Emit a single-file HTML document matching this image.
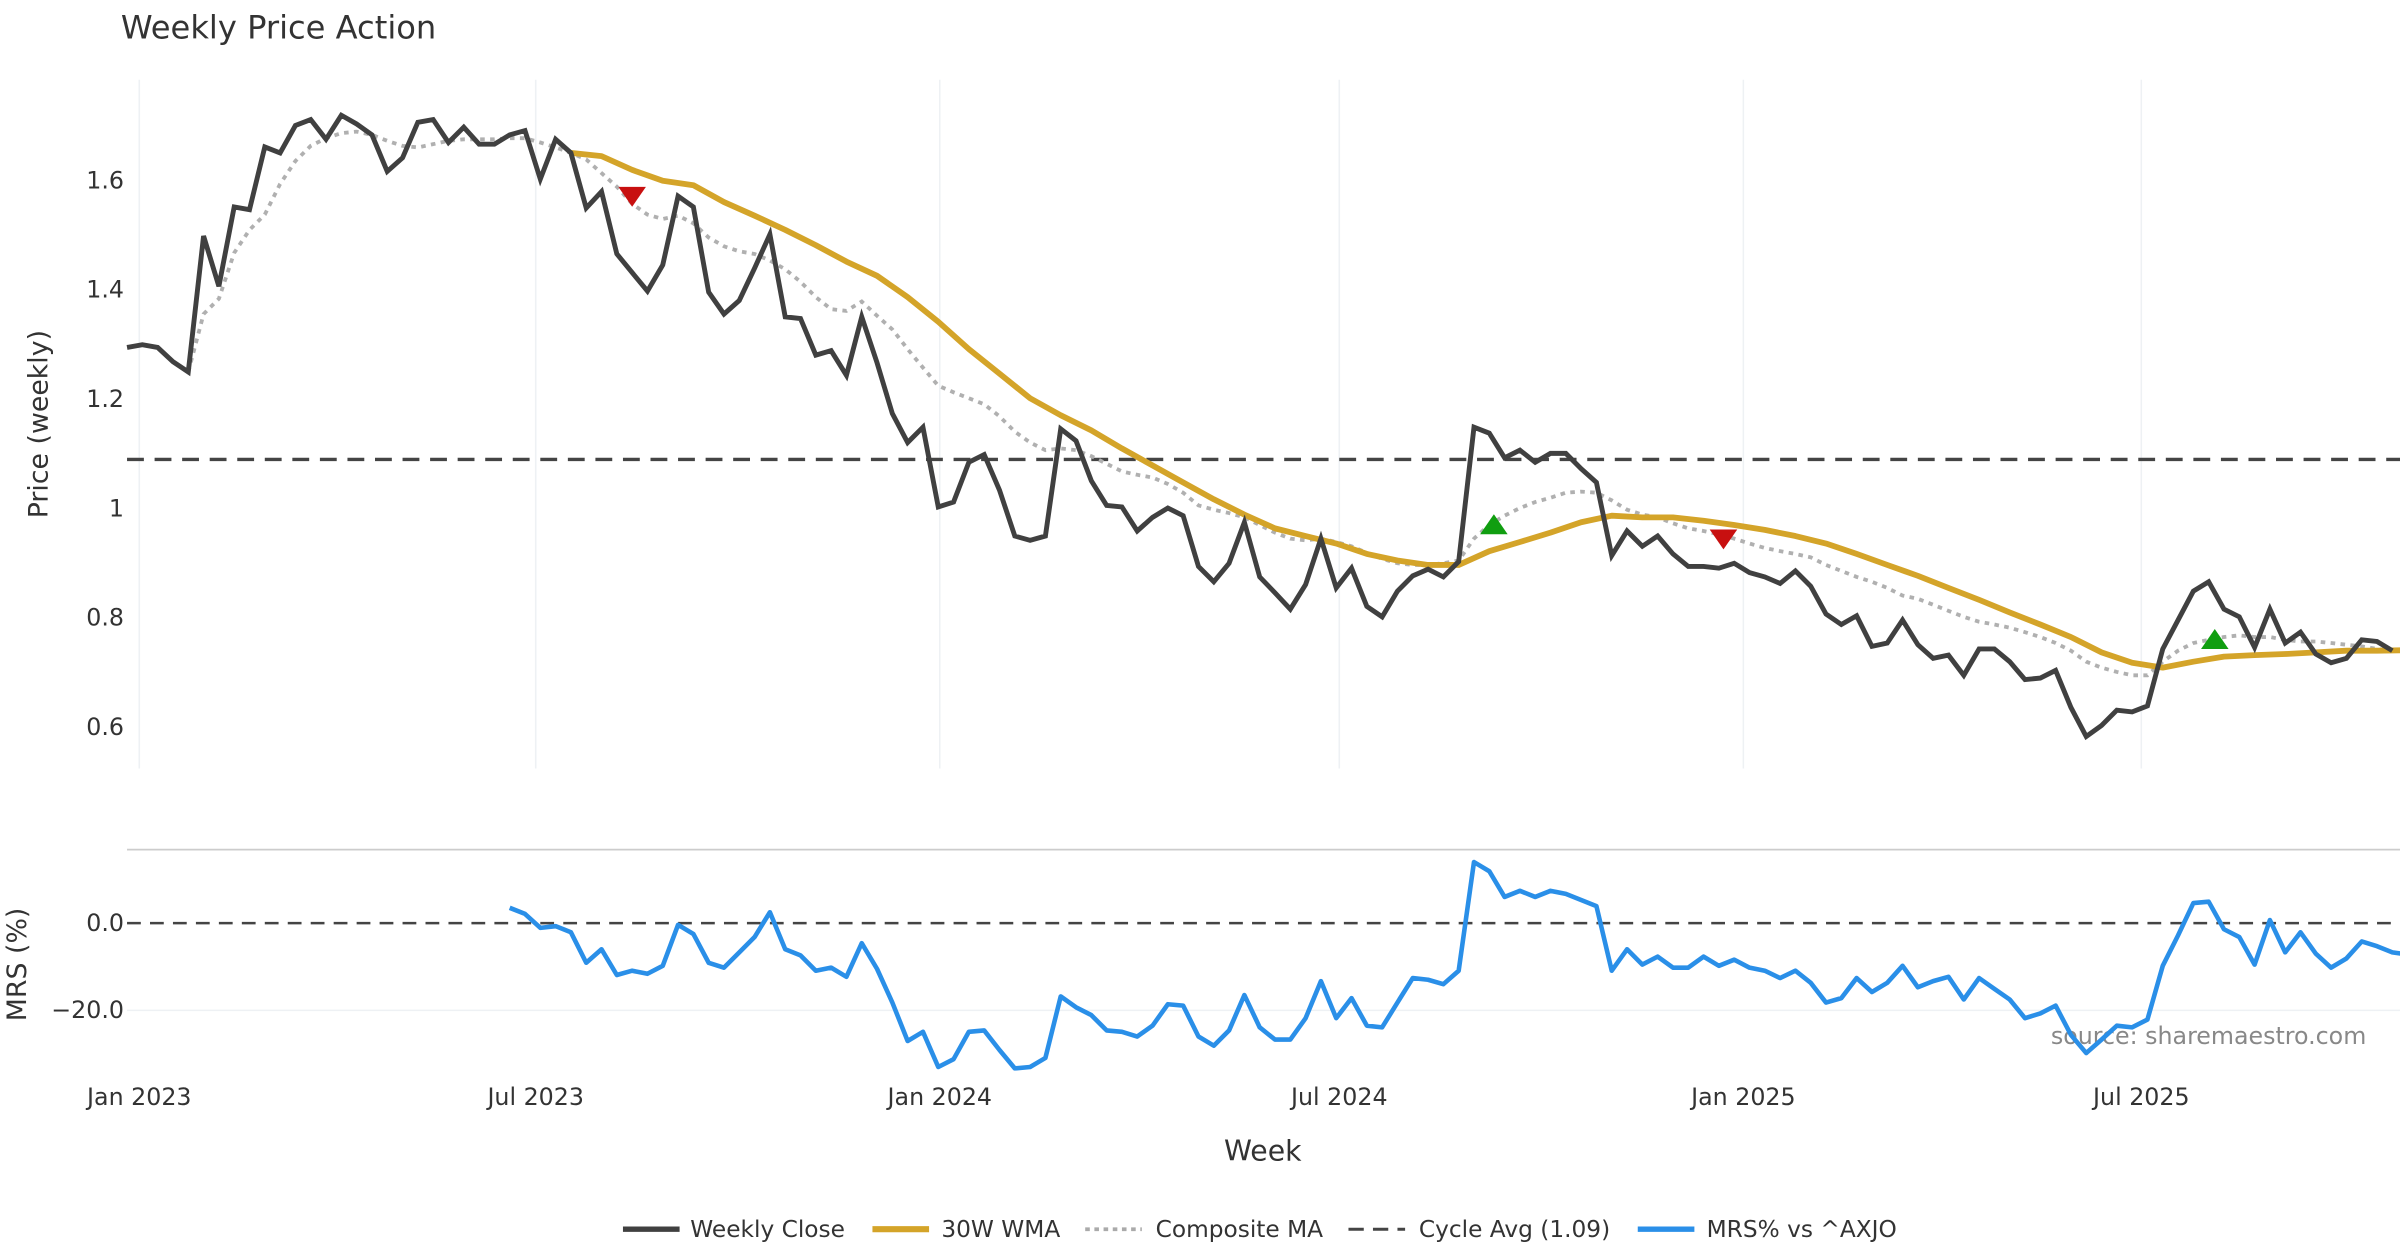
<!DOCTYPE html>
<html><head><meta charset="utf-8"><title>Weekly Price Action</title>
<style>
html,body{margin:0;padding:0;background:#fff;}
svg{display:block;font-family:"DejaVu Sans","Liberation Sans",sans-serif;}
</style></head>
<body>
<svg id="chart" xmlns="http://www.w3.org/2000/svg" width="2400" height="1260" viewBox="0 0 1568 823">
  <rect width="1568" height="823" fill="#fff"/>
  <text x="79" y="25" font-size="21" fill="#333">Weekly Price Action</text>
  <text transform="translate(31,277) rotate(-90)" text-anchor="middle" font-size="17.5" fill="#333">Price (weekly)</text>
  <text transform="translate(17,630) rotate(-90)" text-anchor="middle" font-size="17.5" fill="#333">MRS (%)</text>
  <line x1="83" y1="555" x2="1568" y2="555" stroke="#ccc" stroke-width="1.2"/>
  <text x="1546" y="682" text-anchor="end" font-size="15.5" fill="#888">source: sharemaestro.com</text>
  <text x="825" y="758" text-anchor="middle" font-size="18.5" fill="#333">Week</text>
  <g id="grid"></g>
  <g id="upper"></g>
  <g id="lower"></g>
  <g id="legend">
    <g><line x1="407" y1="803" x2="444" y2="803" stroke="#404040" stroke-width="3.5"/><text x="451" y="808" font-size="15.2" fill="#333">Weekly Close</text></g>
    <g><line x1="570" y1="803" x2="607" y2="803" stroke="#d4a429" stroke-width="4"/><text x="615" y="808" font-size="15.2" fill="#333">30W WMA</text></g>
    <g><line x1="709" y1="803" x2="746" y2="803" stroke="#aaa" stroke-width="2.5" stroke-dasharray="3,3"/><text x="755" y="808" font-size="15.2" fill="#333">Composite MA</text></g>
    <g><line x1="881" y1="803" x2="918" y2="803" stroke="#444" stroke-width="2" stroke-dasharray="10,6"/><text x="927" y="808" font-size="15.2" fill="#333">Cycle Avg (1.09)</text></g>
    <g><line x1="1070" y1="803" x2="1107" y2="803" stroke="#2a8fe8" stroke-width="3.5"/><text x="1115" y="808" font-size="15.2" fill="#333">MRS% vs ^AXJO</text></g>
  </g>
</svg>
<script>
const closeStart = 0;
const closeVals = [1.295,1.300,1.295,1.269,1.250,1.499,1.407,1.552,1.547,1.662,1.651,1.701,1.712,1.676,1.720,1.704,1.684,1.617,1.642,1.707,1.712,1.670,1.698,1.667,1.667,1.684,1.692,1.603,1.676,1.651,1.550,1.580,1.466,1.432,1.398,1.446,1.572,1.552,1.396,1.356,1.381,1.440,1.502,1.351,1.348,1.281,1.289,1.244,1.351,1.267,1.174,1.121,1.149,1.003,1.012,1.085,1.099,1.034,0.950,0.942,0.950,1.146,1.124,1.051,1.006,1.003,0.959,0.984,1.001,0.987,0.894,0.866,0.900,0.975,0.875,0.846,0.816,0.861,0.945,0.855,0.891,0.821,0.802,0.849,0.877,0.889,0.875,0.903,1.149,1.138,1.093,1.107,1.085,1.101,1.101,1.073,1.048,0.914,0.959,0.931,0.950,0.917,0.894,0.894,0.891,0.900,0.883,0.875,0.863,0.886,0.858,0.807,0.788,0.804,0.748,0.754,0.796,0.751,0.726,0.732,0.695,0.743,0.743,0.720,0.687,0.690,0.704,0.636,0.583,0.603,0.631,0.628,0.639,0.743,0.796,0.849,0.866,0.816,0.802,0.746,0.816,0.754,0.774,0.734,0.718,0.726,0.760,0.757,0.740];
const compStart = 4;
const compVals = [1.250,1.356,1.384,1.468,1.510,1.538,1.594,1.636,1.664,1.678,1.687,1.690,1.684,1.673,1.664,1.661,1.667,1.673,1.676,1.676,1.676,1.678,1.678,1.670,1.661,1.651,1.639,1.614,1.589,1.558,1.538,1.530,1.536,1.522,1.496,1.480,1.471,1.466,1.454,1.438,1.415,1.387,1.365,1.362,1.379,1.353,1.328,1.292,1.258,1.225,1.213,1.202,1.191,1.169,1.141,1.121,1.107,1.110,1.107,1.096,1.082,1.068,1.062,1.057,1.045,1.029,1.006,0.998,0.992,0.984,0.970,0.956,0.945,0.942,0.945,0.939,0.931,0.919,0.908,0.900,0.897,0.897,0.900,0.905,0.945,0.970,0.987,1.001,1.012,1.020,1.029,1.031,1.029,1.015,0.998,0.989,0.984,0.973,0.964,0.959,0.953,0.945,0.936,0.928,0.922,0.917,0.911,0.897,0.886,0.875,0.866,0.855,0.841,0.835,0.824,0.813,0.802,0.793,0.788,0.782,0.774,0.765,0.754,0.740,0.720,0.709,0.701,0.695,0.695,0.720,0.740,0.754,0.760,0.765,0.768,0.765,0.765,0.760,0.757,0.757,0.754,0.751,0.748,0.743,0.740,0.740];
const wmaWeeks = [29,31,33,35,37,39,41,43,45,47,49,51,53,55,57,59,61,63,65,67,69,71,73,75,77,79,81,83,85,87,89,91,93,95,97,99,101,103,105,107,109,111,113,115,117,119,121,123,125,127,129,131,133,135,137,139,141,143,145,147,149];
const wmaVals = [1.651,1.645,1.620,1.600,1.592,1.561,1.536,1.510,1.482,1.452,1.426,1.387,1.342,1.292,1.247,1.202,1.171,1.143,1.110,1.079,1.048,1.017,0.989,0.964,0.950,0.936,0.917,0.905,0.897,0.897,0.922,0.939,0.956,0.975,0.987,0.984,0.984,0.978,0.970,0.961,0.950,0.936,0.917,0.897,0.877,0.855,0.833,0.810,0.788,0.765,0.737,0.718,0.709,0.720,0.729,0.732,0.734,0.737,0.740,0.740,0.741];
const cycleAvg = 1.09;
const sellWeeks = [33,104.3];
const sellVals = [1.572,0.945];
const buyWeeks = [89.3,136.4];
const buyVals = [0.970,0.760];
const mrsStart = 25;
const mrsVals = [3.5,2.1,-1.1,-0.7,-2.1,-9.1,-6.0,-11.9,-10.9,-11.6,-9.8,-0.4,-2.5,-9.1,-10.2,-6.7,-3.2,2.5,-6.0,-7.4,-10.9,-10.2,-12.3,-4.6,-10.5,-18.2,-27.0,-24.9,-33.0,-31.2,-24.9,-24.6,-29.1,-33.3,-33.0,-30.9,-16.8,-19.3,-21.1,-24.6,-24.9,-26.0,-23.5,-18.6,-18.9,-26.0,-28.1,-24.6,-16.5,-23.9,-26.7,-26.7,-21.8,-13.3,-21.8,-17.2,-23.5,-23.9,-18.2,-12.6,-13.0,-14.0,-10.9,14.0,11.9,6.0,7.4,6.0,7.4,6.7,5.3,3.9,-10.9,-6.0,-9.5,-7.7,-10.2,-10.2,-7.7,-9.8,-8.4,-10.2,-10.9,-12.6,-10.9,-13.7,-18.2,-17.2,-12.6,-15.8,-13.7,-9.8,-14.7,-13.3,-12.3,-17.5,-12.6,-15.1,-17.5,-21.8,-20.7,-18.9,-25.6,-29.8,-26.7,-23.5,-23.9,-22.1,-9.8,-2.8,4.6,4.9,-1.4,-3.2,-9.5,0.7,-6.7,-2.1,-7.0,-10.2,-8.1,-4.2,-5.3,-6.7,-7.2];
const xTickWeeks = [0.8,26.7,53.1,79.2,105.6,131.6];
const xTickLabels = ["Jan 2023","Jul 2023","Jan 2024","Jul 2024","Jan 2025","Jul 2025"];
const priceTicks = [0.6,0.8,1.0,1.2,1.4,1.6];
const priceTickLabels = ["0.6","0.8","1","1.2","1.4","1.6"];
const mrsTicks = [0,-20];
const mrsTickLabels = ["0.0","\u221220.0"];

const NS = "http://www.w3.org/2000/svg";
function X(w){ return 83 + w * 10; }
function YP(v){ return 475 - (v - 0.6) * 357; }
function YM(v){ return 603 - v * 2.85; }
function mk(tag, attrs, parent){
  const e = document.createElementNS(NS, tag);
  for (const k in attrs) e.setAttribute(k, attrs[k]);
  parent.appendChild(e);
  return e;
}
const grid = document.getElementById('grid');
const upper = document.getElementById('upper');
const lower = document.getElementById('lower');

xTickWeeks.forEach((w, i) => {
  const g1 = mk('line', {x1:X(w), x2:X(w), y1:52, y2:502, stroke:'#eef1f4', 'stroke-width':1}, grid);
  
  
  const t = mk('text', {x:X(w), y:722, 'text-anchor':'middle', 'font-size':15.5, fill:'#333'}, grid);
  t.textContent = xTickLabels[i];
  
  
});
priceTicks.forEach((v, i) => {
  const t = mk('text', {x:81, y:YP(v) + 5, 'text-anchor':'end', 'font-size':15.5, fill:'#333'}, grid);
  t.textContent = priceTickLabels[i];
  
  
});
mrsTicks.forEach((v, i) => {
  if (v !== 0) {
    const gl = mk('line', {x1:83, x2:1568, y1:YM(v), y2:YM(v), stroke:'#eef1f4', 'stroke-width':1}, grid);
    
    
  }
  const t = mk('text', {x:81, y:YM(v) + 5, 'text-anchor':'end', 'font-size':15.5, fill:'#333'}, grid);
  t.textContent = mrsTickLabels[i];
  
  
});

function pathFrom(ws, vs, yf){
  return vs.map((v, i) => (i ? 'L' : 'M') + X(ws(i)).toFixed(1) + ',' + yf(v).toFixed(1)).join(' ');
}
const cyc = mk('line', {x1:83, x2:1568, y1:YP(cycleAvg), y2:YP(cycleAvg), stroke:'#444', 'stroke-width':2.2, 'stroke-dasharray':'11,7'}, upper);



const comp = mk('path', {d:pathFrom(i => compStart + i, compVals, YP), fill:'none', stroke:'#b0b0b0', 'stroke-width':2.5, 'stroke-dasharray':'3,3.5'}, upper);



const wma = mk('path', {d:pathFrom(i => wmaWeeks[i], wmaVals, YP), fill:'none', stroke:'#d4a429', 'stroke-width':3.8, 'stroke-linejoin':'round'}, upper);



const cl = mk('path', {d:pathFrom(i => closeStart + i, closeVals, YP), fill:'none', stroke:'#404040', 'stroke-width':3.2, 'stroke-linejoin':'miter'}, upper);



sellWeeks.forEach((w, i) => {
  const x = X(w), y = YP(sellVals[i]);
  const p = mk('polygon', {points:`${x-9},${y-6} ${x+9},${y-6} ${x},${y+7}`, fill:'#c81010'}, upper);
  
  
});
buyWeeks.forEach((w, i) => {
  const x = X(w), y = YP(buyVals[i]);
  const p = mk('polygon', {points:`${x-9},${y+6} ${x+9},${y+6} ${x},${y-7}`, fill:'#109e10'}, upper);
  
  
});

const zl = mk('line', {x1:83, x2:1568, y1:YM(0), y2:YM(0), stroke:'#444', 'stroke-width':1.6, 'stroke-dasharray':'9,6'}, lower);


const mrs = mk('path', {d:pathFrom(i => mrsStart + i, mrsVals, YM), fill:'none', stroke:'#2a8fe8', 'stroke-width':3, 'stroke-linejoin':'round'}, lower);


</script>
</body></html>
